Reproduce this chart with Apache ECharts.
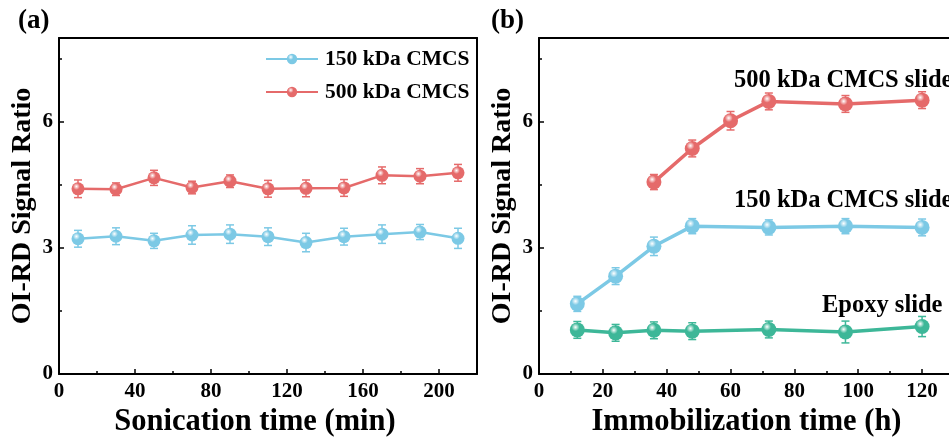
<!DOCTYPE html>
<html>
<head>
<meta charset="utf-8">
<script src="https://cdn.jsdelivr.net/npm/echarts@6/dist/echarts.min.js"></script>
<style>html,body{margin:0;padding:0;background:#fff;}#c{width:949px;height:444px;}</style>
</head>
<body>
<div id="c"></div>
<script>
// ---- Panel (a) data ----
const sonicationTime = [10, 30, 50, 70, 90, 110, 130, 150, 170, 190, 210];
const cmcs150_a = [3.22, 3.28, 3.17, 3.31, 3.33, 3.27, 3.13, 3.27, 3.33, 3.38, 3.23];
const cmcs150_a_err = [0.2, 0.2, 0.18, 0.22, 0.22, 0.21, 0.22, 0.2, 0.22, 0.18, 0.24];
const cmcs500_a = [4.41, 4.40, 4.67, 4.44, 4.59, 4.41, 4.42, 4.43, 4.73, 4.71, 4.79];
const cmcs500_a_err = [0.21, 0.15, 0.18, 0.15, 0.15, 0.2, 0.2, 0.2, 0.2, 0.18, 0.2];

// ---- Panel (b) data ----
const immobTime500 = [36, 48, 60, 72, 96, 120];
const cmcs500_b = [4.57, 5.37, 6.03, 6.49, 6.43, 6.52];
const cmcs500_b_err = [0.18, 0.2, 0.22, 0.2, 0.2, 0.2];
const immobTime = [12, 24, 36, 48, 72, 96, 120];
const cmcs150_b = [1.67, 2.33, 3.04, 3.52, 3.49, 3.52, 3.49];
const cmcs150_b_err = [0.18, 0.2, 0.22, 0.18, 0.18, 0.18, 0.2];
const epoxy_b = [1.05, 0.98, 1.04, 1.02, 1.06, 1.00, 1.13];
const epoxy_b_err = [0.2, 0.2, 0.2, 0.2, 0.2, 0.26, 0.24];

const xTicksA = {min: 0, max: 220, interval: 40};
const xTicksB = {min: 0, max: 130, interval: 20};
const yTicks = {min: 0, max: 8, interval: 3};

const RED = '#E56A6A', BLUE = '#7CC9E5', GREEN = '#3DB798';
const FONT = '"Liberation Serif", "Times New Roman", serif';

function ball(c) {
  return {type: 'radial', x: 0.38, y: 0.32, r: 0.7,
    colorStops: [{offset: 0, color: '#ffffff'}, {offset: 0.38, color: c}, {offset: 1, color: c}]};
}
function pairs(xs, ys) { return xs.map((x, i) => [x, ys[i]]); }
function errs(xs, ys, es) { return xs.map((x, i) => [x, ys[i] - es[i], ys[i] + es[i]]); }

function lineSeries(name, xs, ys, color, gi, lw, size) {
  return {
    name, type: 'line', xAxisIndex: gi * 2, yAxisIndex: gi * 2, data: pairs(xs, ys),
    symbol: 'circle', symbolSize: size, showSymbol: true, z: 3,
    lineStyle: {color, width: lw},
    itemStyle: {color: ball(color), borderWidth: 0},
    emphasis: {disabled: true}
  };
}
function errSeries(xs, ys, es, color, gi) {
  return {
    type: 'custom', xAxisIndex: gi * 2, yAxisIndex: gi * 2, z: 2, silent: true,
    data: errs(xs, ys, es),
    encode: {x: 0, y: [1, 2]},
    renderItem: function (params, api) {
      const lo = api.coord([api.value(0), api.value(1)]);
      const hi = api.coord([api.value(0), api.value(2)]);
      const w = 4;
      const st = {stroke: color, lineWidth: 1.5};
      return {type: 'group', children: [
        {type: 'line', shape: {x1: lo[0], y1: lo[1], x2: hi[0], y2: hi[1]}, style: st},
        {type: 'line', shape: {x1: lo[0] - w, y1: lo[1], x2: lo[0] + w, y2: lo[1]}, style: st},
        {type: 'line', shape: {x1: hi[0] - w, y1: hi[1], x2: hi[0] + w, y2: hi[1]}, style: st}
      ]};
    }
  };
}
function onInterval(iv) {
  return function (v) { return Math.abs(v / iv - Math.round(v / iv)) < 1e-6 ? String(v) : ''; };
}

function xAxis(gi, t, name, pad) {
  return {
    type: 'value', gridIndex: gi, min: t.min, max: t.max, interval: t.interval, position: 'bottom',
    name, nameLocation: 'middle', nameGap: 28,
    nameTextStyle: {fontFamily: FONT, fontWeight: 'bold', fontSize: 30.5, color: '#000', padding: pad},
    axisLine: {show: true, onZero: false, lineStyle: {color: '#000', width: 2}},
    axisTick: {show: true, inside: true, length: 5, lineStyle: {color: '#000', width: 1.5}},
    minorTick: {show: true, splitNumber: 2, length: 3, lineStyle: {color: '#000', width: 1.5}},
    axisLabel: {fontFamily: FONT, fontWeight: 'bold', fontSize: 21, color: '#000', margin: 7,
      showMaxLabel: false, formatter: onInterval(t.interval)},
    splitLine: {show: false}
  };
}
function frameX(gi, t) {
  return {type: 'value', gridIndex: gi, min: t.min, max: t.max, position: 'top',
    axisLine: {show: true, onZero: false, lineStyle: {color: '#000', width: 2}},
    axisTick: {show: false}, axisLabel: {show: false}, splitLine: {show: false}};
}
function yAxis(gi) {
  return {
    type: 'value', gridIndex: gi, min: yTicks.min, max: yTicks.max, interval: yTicks.interval, position: 'left',
    name: 'OI-RD Signal Ratio', nameLocation: 'middle', nameGap: 22,
    nameTextStyle: {fontFamily: FONT, fontWeight: 'bold', fontSize: 28, color: '#000'},
    axisLine: {show: true, onZero: false, lineStyle: {color: '#000', width: 2}},
    axisTick: {show: true, inside: true, length: 5, lineStyle: {color: '#000', width: 1.5}},
    minorTick: {show: true, splitNumber: 2, length: 3, lineStyle: {color: '#000', width: 1.5}},
    axisLabel: {fontFamily: FONT, fontWeight: 'bold', fontSize: 21, color: '#000', margin: 6,
      showMaxLabel: false, formatter: onInterval(yTicks.interval)},
    splitLine: {show: false}
  };
}
function frameY(gi) {
  return {type: 'value', gridIndex: gi, min: yTicks.min, max: yTicks.max, position: 'right',
    axisLine: {show: true, onZero: false, lineStyle: {color: '#000', width: 2}},
    axisTick: {show: false}, axisLabel: {show: false}, splitLine: {show: false}};
}

const chart = echarts.init(document.getElementById('c'), null, {renderer: 'canvas'});
chart.setOption({
  animation: false,
  backgroundColor: '#fff',
  grid: [
    {left: 59, top: 38, width: 418, height: 336, containLabel: false, outerBoundsMode: 'none'},
    {left: 539, top: 38, width: 415, height: 336, containLabel: false, outerBoundsMode: 'none'}
  ],
  xAxis: [xAxis(0, xTicksA, 'Sonication time (min)', [0, 26, 0, 0]), frameX(0, xTicksA),
          xAxis(1, xTicksB, 'Immobilization time (h)', [0, 0, 0, 0]), frameX(1, xTicksB)],
  yAxis: [yAxis(0), frameY(0), yAxis(1), {type: 'value', gridIndex: 1, show: false, min: 0, max: 8}],
  legend: {
    data: ['150 kDa CMCS', '500 kDa CMCS'],
    orient: 'vertical', left: 260, top: 43, itemWidth: 52, itemHeight: 13, itemGap: 11,
    textStyle: {fontFamily: FONT, fontWeight: 'bold', fontSize: 21.5, color: '#000', padding: [0, 0, 0, 2]}
  },
  graphic: [
    {type: 'text', left: 18, top: 8, style: {text: '(a)', font: 'bold 27px ' + FONT, fill: '#000'}},
    {type: 'text', left: 491, top: 8, style: {text: '(b)', font: 'bold 27px ' + FONT, fill: '#000'}},
    {type: 'text', left: 734, top: 68, style: {text: '500 kDa CMCS slide', font: 'bold 24.5px ' + FONT, fill: '#000'}},
    {type: 'text', left: 734, top: 188, style: {text: '150 kDa CMCS slide', font: 'bold 24.5px ' + FONT, fill: '#000'}},
    {type: 'text', left: 822, top: 293, style: {text: 'Epoxy slide', font: 'bold 24.5px ' + FONT, fill: '#000'}}
  ],
  series: [
    errSeries(sonicationTime, cmcs150_a, cmcs150_a_err, BLUE, 0),
    errSeries(sonicationTime, cmcs500_a, cmcs500_a_err, RED, 0),
    lineSeries('150 kDa CMCS', sonicationTime, cmcs150_a, BLUE, 0, 2.5, 13),
    lineSeries('500 kDa CMCS', sonicationTime, cmcs500_a, RED, 0, 2.5, 13),
    errSeries(immobTime500, cmcs500_b, cmcs500_b_err, RED, 1),
    errSeries(immobTime, cmcs150_b, cmcs150_b_err, BLUE, 1),
    errSeries(immobTime, epoxy_b, epoxy_b_err, GREEN, 1),
    lineSeries('500 kDa CMCS slide', immobTime500, cmcs500_b, RED, 1, 3.5, 15),
    lineSeries('150 kDa CMCS slide', immobTime, cmcs150_b, BLUE, 1, 3.5, 15),
    lineSeries('Epoxy slide', immobTime, epoxy_b, GREEN, 1, 3.5, 15)
  ]
});
</script>
</body>
</html>
